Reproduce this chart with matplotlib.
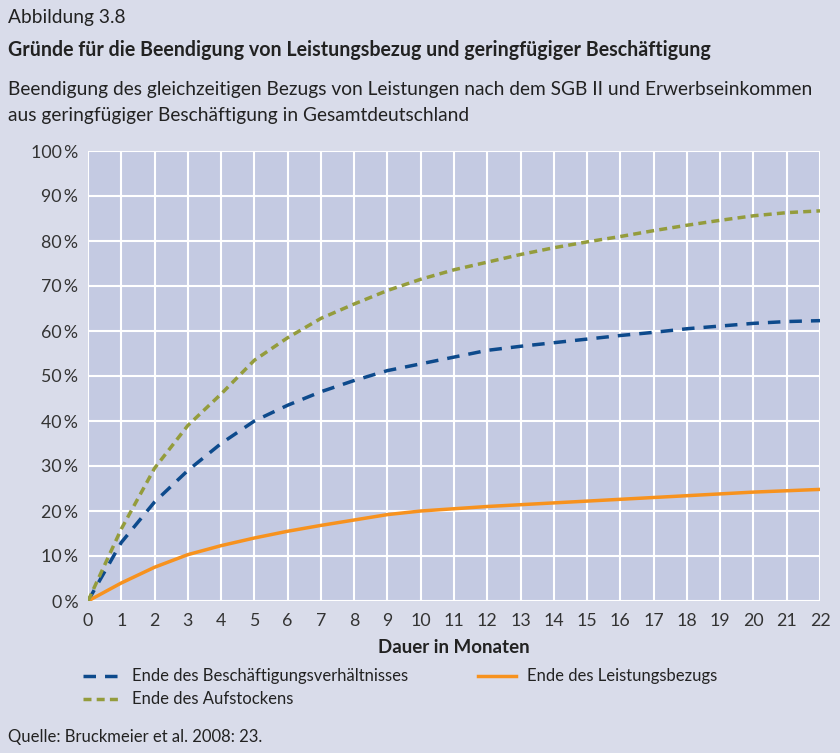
import matplotlib.pyplot as plt
from matplotlib.lines import Line2D

plt.rcParams['font.family'] = ['Lato', 'DejaVu Sans']

# Daten
monate = list(range(0, 23))
beschaeftigung = [0, 13, 22, 29, 35, 40, 43.5, 46.5, 49, 51.2, 52.7, 54.2, 55.7,
                  56.6, 57.4, 58.2, 59, 59.7, 60.5, 61.1, 61.7, 62.1, 62.3]
leistungsbezug = [0, 4, 7.5, 10.3, 12.3, 14, 15.5, 16.8, 18, 19.2, 20, 20.5, 21,
                  21.4, 21.8, 22.2, 22.6, 23, 23.4, 23.8, 24.2, 24.5, 24.8]
aufstocken = [0, 16, 29.5, 39, 46, 53.5, 58.5, 62.8, 66, 69, 71.5, 73.6, 75.3,
              77, 78.5, 79.8, 81, 82.3, 83.5, 84.6, 85.6, 86.3, 86.7]
y_ticks = list(range(0, 101, 10))

bg = '#d9dcea'
txt = '#222222'
blau, orange, gruen = '#0d4a8c', '#f7921e', '#949c3c'
dash_blau, dash_gruen = (3.6, 2.6), (2.3, 1.5)

fig = plt.figure(figsize=(8.4, 7.53), dpi=100, facecolor=bg)
ax = fig.add_axes([88 / 840, 1 - 601 / 753, 732 / 840, 450 / 753])
ax.set_facecolor('#c4cae2')

ax.plot(monate, beschaeftigung, color=blau, lw=2.5, dashes=dash_blau)
ax.plot(monate, leistungsbezug, color=orange, lw=2.5)
ax.plot(monate, aufstocken, color=gruen, lw=2.5, dashes=dash_gruen)

ax.set_xlim(0, 22)
ax.set_ylim(0, 100)
ax.set_xticks(monate)
ax.set_yticks(y_ticks)
ax.set_yticklabels([f'{v}\u2009%' for v in y_ticks])
ax.grid(True, color='white', lw=1.5)
ax.set_axisbelow(True)
for s in ax.spines.values():
    s.set_visible(False)
ax.tick_params(length=0, labelsize=12.8, colors='#333333', pad=7)
ax.tick_params(axis='x', pad=9)
ax.set_xlabel('Dauer in Monaten', fontsize=13.5, fontweight='bold', color=txt, labelpad=7)

# Texte oben
fig.text(8 / 840, 1 - 17 / 753, 'Abbildung 3.8', fontsize=13.8, va='center', color=txt)
fig.text(8 / 840, 1 - 50 / 753, 'Gründe für die Beendigung von Leistungsbezug und geringfügiger Beschäftigung',
         fontsize=14.1, fontweight='bold', va='center', color=txt)
fig.text(8 / 840, 1 - 90 / 753, 'Beendigung des gleichzeitigen Bezugs von Leistungen nach dem SGB II und Erwerbseinkommen',
         fontsize=13.8, va='center', color=txt)
fig.text(8 / 840, 1 - 116 / 753, 'aus geringfügiger Beschäftigung in Gesamtdeutschland',
         fontsize=13.8, va='center', color=txt)

# Legende
def legend_entry(x0, y, color, dashes, label):
    yy = 1 - y / 753
    ln = Line2D([x0 / 840, (x0 + 38) / 840], [yy, yy], transform=fig.transFigure,
                color=color, lw=2.5)
    if dashes:
        ln.set_dashes(dashes)
    fig.add_artist(ln)
    fig.text((x0 + 49) / 840, yy, label, fontsize=12, va='center', color=txt)

legend_entry(83, 676, blau, dash_blau, 'Ende des Beschäftigungsverhältnisses')
legend_entry(478, 676, orange, None, 'Ende des Leistungsbezugs')
legend_entry(83, 699, gruen, dash_gruen, 'Ende des Aufstockens')

fig.text(8 / 840, 1 - 737 / 753, 'Quelle: Bruckmeier et al. 2008: 23.', fontsize=12, va='center', color=txt)

fig.savefig('out.png', dpi=100, facecolor=bg)
